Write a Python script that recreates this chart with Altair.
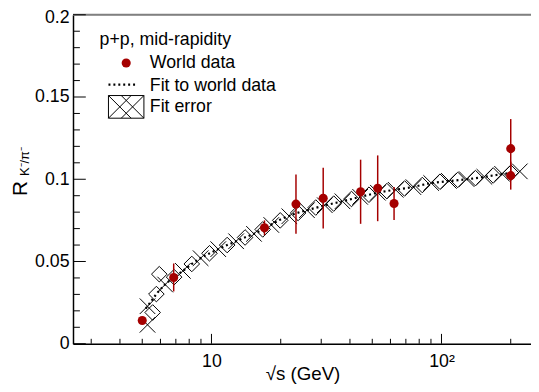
import altair as alt
import pandas as pd

# ---- world data points ----
pt_x = [5.0, 6.85, 17.0, 23.3, 30.6, 44.5, 52.8, 62.2, 200.0, 200.0]
pt_y = [0.0141, 0.0403, 0.0705, 0.0849, 0.0885, 0.0924, 0.0945, 0.0853, 0.1186, 0.1022]
pt_err = [0.001, 0.0085, 0.0045, 0.018, 0.0185, 0.0195, 0.020, 0.010, 0.018, 0.0085]

# ---- fit curve (dotted) ----
fit_x = [5.18, 5.44, 5.77, 6.21, 6.85, 7.56, 8.35, 9.27, 10.2, 11.2, 12.4, 13.7, 15.5, 17.0,
         19.6, 23.0, 27.3, 32.0, 37.8, 45.0, 52.7, 62.0, 73.0, 89.0, 110.0, 136.0, 177.0, 209.0]
fit_y = [0.0214, 0.0254, 0.0303, 0.0353, 0.0403, 0.0446, 0.0492, 0.0532, 0.0561, 0.0588, 0.0615,
         0.0641, 0.0672, 0.0700, 0.0750, 0.0790, 0.0820, 0.0845, 0.0869, 0.0895, 0.0918, 0.0935,
         0.0950, 0.0975, 0.0990, 0.1004, 0.1028, 0.1042]

# ---- fit error hatch cells read along the band ----
hatch_x = [5.27, 5.76, 6.29, 6.88, 7.51, 8.21, 8.97, 9.80, 10.7, 11.7, 12.8, 14.0, 15.3, 16.7,
           18.2, 19.9, 21.8, 23.8, 26.0, 28.4, 31.1, 34.0, 37.1, 40.6, 44.3, 48.4, 52.9, 57.9,
           63.2, 69.1, 75.5, 82.5, 90.2, 98.5, 107.7, 117.7, 128.6, 140.5, 153.6, 167.8, 183.4,
           200.4, 219.0, 5.93, 5.27, 5.55]
hatch_y = [0.0228, 0.0302, 0.0360, 0.0405, 0.0443, 0.0485, 0.0520, 0.0550, 0.0575, 0.0600,
           0.0623, 0.0646, 0.0668, 0.0695, 0.0722, 0.0750, 0.0775, 0.0795, 0.0812, 0.0828,
           0.0842, 0.0852, 0.0866, 0.0880, 0.0893, 0.0906, 0.0918, 0.0928, 0.0936, 0.0944,
           0.0952, 0.0965, 0.0977, 0.0985, 0.0990, 0.0996, 0.1001, 0.1007, 0.1015, 0.1023,
           0.1033, 0.1040, 0.1048, 0.0423, 0.0115, 0.0190]
hatch_kind = (["x", "d"] * 22)[:43] + ["d", "x", "d"]

# ---- axis ticks ----
x_major = [10, 100]
x_minor = [3, 4, 5, 6, 7, 8, 9, 20, 30, 40, 50, 60, 70, 80, 90, 200]
y_major = [0.0, 0.05, 0.1, 0.15, 0.2]
y_minor = [0.01, 0.02, 0.03, 0.04, 0.06, 0.07, 0.08, 0.09, 0.11, 0.12, 0.13, 0.14,
           0.16, 0.17, 0.18, 0.19]

RED = "#a50000"
FONT = "Liberation Sans"
W, H = 465, 334
XPATH = "M-1,-1L1,1M-1,1L1,-1"
DPATH = "M0,-1L1,0L0,1L-1,0Z"

xs = alt.Scale(type="log", domain=[2.5, 245], nice=False)
ys = alt.Scale(domain=[0, 0.2], nice=False)

XAXIS = alt.Axis(values=x_major, ticks=False, grid=False, domainColor="black",
                 domainWidth=1.5, labelExpr="datum.value == 10 ? '10' : '10²'",
                 labelFont=FONT, labelFontSize=18, labelColor="black",
                 labelPadding=9, title="√s (GeV)", titleFont=FONT,
                 titleFontSize=19, titleFontWeight="normal", titleColor="black",
                 titleBaseline="middle", titleX=233, titleY=30, labelFlush=False)
YAXIS = alt.Axis(values=y_major, ticks=False, grid=False, domainColor="black",
                 domainWidth=1.5, format="~g", labelFont=FONT, labelFontSize=18,
                 labelColor="black", labelPadding=4, labelFlush=False,
                 labelOffset={"condition": {"test": "datum.value >= 0.2", "value": 3},
                              "value": 0},
                 title="R", titleFont=FONT, titleFontSize=21, titleFontWeight="normal",
                 titleColor="black", titleAngle=270, titleAlign="center",
                 titleBaseline="middle", titleX=-53, titleY=176)

pts = pd.DataFrame({"x": pt_x, "y": pt_y,
                    "lo": [a - b for a, b in zip(pt_y, pt_err)],
                    "hi": [a + b for a, b in zip(pt_y, pt_err)]})
fit = pd.DataFrame({"x": fit_x, "y": fit_y})
hatch = pd.DataFrame({"x": hatch_x, "y": hatch_y, "k": hatch_kind})

X = lambda f="x": alt.X(f + ":Q", scale=xs, axis=XAXIS)
Y = lambda f="y": alt.Y(f + ":Q", scale=ys, axis=YAXIS)

top_line = alt.Chart(pd.DataFrame({"a": [0]})).mark_rule(color="#808080", strokeWidth=2).encode(
    x=alt.value(0), x2=alt.value(W), y=alt.value(0))

ymaj = alt.Chart(pd.DataFrame({"y": y_major})).mark_rule(color="black", strokeWidth=1).encode(
    y=Y(), x=alt.value(0), x2=alt.value(13))
ymin = alt.Chart(pd.DataFrame({"y": y_minor})).mark_rule(color="black", strokeWidth=1).encode(
    y=Y(), x=alt.value(0), x2=alt.value(7))
xmaj = alt.Chart(pd.DataFrame({"x": x_major})).mark_rule(color="black", strokeWidth=1).encode(
    x=X(), y=alt.value(H), y2=alt.value(H - 10))
xmin = alt.Chart(pd.DataFrame({"x": x_minor})).mark_rule(color="black", strokeWidth=1).encode(
    x=X(), y=alt.value(H), y2=alt.value(H - 5))

band = alt.Chart(hatch).mark_point(filled=False, strokeWidth=1, color="black", opacity=1).encode(
    x=X(), y=Y(),
    shape=alt.Shape("k:N", scale=alt.Scale(domain=["x", "d"], range=[XPATH, DPATH]), legend=None),
    size=alt.value(250))

fitline = alt.Chart(fit).mark_line(color="black", strokeWidth=2.2, strokeDash=[2, 3],
                                   interpolate="monotone").encode(x=X(), y=Y())

ebars = alt.Chart(pts).mark_rule(color=RED, strokeWidth=1.5).encode(
    x=X(), y=Y("lo"), y2="hi:Q")
dots = alt.Chart(pts).mark_point(filled=True, color=RED, opacity=1, size=85).encode(x=X(), y=Y())

# ---- legend ----
def label(txt, x, y, size=18):
    return alt.Chart(pd.DataFrame({"t": [txt]})).mark_text(
        align="left", baseline="middle", font=FONT, fontSize=size, color="black").encode(
        text="t:N", x=alt.value(x), y=alt.value(y))

leg_title = label("p+p, mid-rapidity", 27, 26)
leg_t1 = label("World data", 78, 49)
leg_t2 = label("Fit to world data", 78, 72)
leg_t3 = label("Fit error", 78, 94)
leg_dot = alt.Chart(pd.DataFrame({"a": [0]})).mark_point(filled=True, color=RED, opacity=1,
                                                         size=85).encode(
    x=alt.value(54), y=alt.value(49))
leg_line = alt.Chart(pd.DataFrame({"a": [0]})).mark_rule(color="black", strokeWidth=2.2,
                                                         strokeDash=[2, 3]).encode(
    x=alt.value(36), x2=alt.value(64), y=alt.value(71))
leg_box = alt.Chart(pd.DataFrame({"a": [0]})).mark_rect(fill="white", fillOpacity=0,
                                                        stroke="black", strokeWidth=1).encode(
    x=alt.value(36), x2=alt.value(72), y=alt.value(82), y2=alt.value(105))
leg_hatch = alt.Chart(pd.DataFrame({"px": [47.5, 60.5]})).mark_point(
    filled=False, color="black", strokeWidth=1, opacity=1, shape=XPATH, size=529).encode(
    x=alt.X("px:Q", scale=None), y=alt.value(93.5))

# ---- y title subscript ----
ytitle_sub = alt.Chart(pd.DataFrame({"t": ["K⁻/π⁻"]})).mark_text(
    font=FONT, fontSize=13, color="black", align="center", baseline="middle", angle=270).encode(
    text="t:N", x=alt.value(-49), y=alt.value(149))

chart = alt.layer(
    top_line, ymaj, ymin, xmaj, xmin, band, fitline, ebars, dots,
    leg_title, leg_t1, leg_t2, leg_t3, leg_dot, leg_line, leg_box, leg_hatch,
    ytitle_sub,
).properties(
    width=W, height=H, autosize="none",
    padding={"left": 66, "right": 0, "top": 4, "bottom": 38},
).configure_view(strokeWidth=0).configure(background="white")

chart.save("out.html", embed_options={"renderer": "svg", "actions": False})
